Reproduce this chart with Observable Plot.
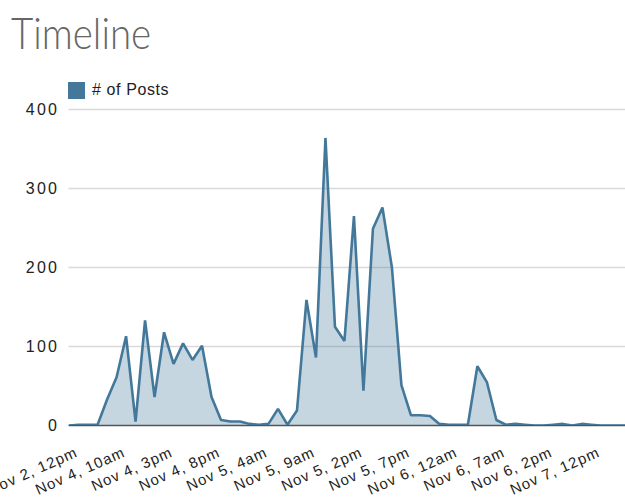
<!DOCTYPE html>
<html>
<head>
<meta charset="utf-8">
<script src="https://cdn.jsdelivr.net/npm/d3@7"></script>
<script src="https://cdn.jsdelivr.net/npm/@observablehq/plot@0.6"></script>
<style>
  html, body { margin: 0; padding: 0; background: #fff; }
  body { width: 625px; height: 497px; overflow: hidden; font-family: Arial, "Liberation Sans", sans-serif; }
  #header { position: relative; height: 90px; }
  #title { position: absolute; left: 11px; top: 2px; font-family: Lato, sans-serif; font-weight: 300;
           font-size: 44px; line-height: 60px; color: #666; white-space: nowrap;
           transform: scaleX(0.875); transform-origin: left top; }
  #header .sw { position: absolute; left: 68px; top: 82px; width: 17px; height: 17px; background: #43789a; }
  #header .lb { position: absolute; left: 92px; top: 80px; font-size: 16px; line-height: 20px; color: #222; letter-spacing: 0.6px; }
  #chart svg { display: block; }
  #chart g[aria-label="y-axis tick label"] text { letter-spacing: 2.2px; }
</style>
</head>
<body>
<div id="header">
  <div id="title">Timeline</div>
  <div class="sw"></div><div class="lb"># of Posts</div>
</div>
<div id="chart"></div>
<script>
// Number of posts per time bucket (category index 0..59)
const postCounts = [0, 1, 1, 1, 33, 61, 113, 5, 133, 36,
                    118, 78, 104, 83, 101, 36, 7, 5, 5, 2,
                    1, 2, 21, 1, 19, 159, 86, 364, 125, 107,
                    265, 44, 249, 276, 200, 51, 13, 13, 12, 2,
                    1, 1, 1, 75, 55, 7, 1, 2, 1, 0,
                    0, 1, 2, 0, 2, 1, 0, 0, 0, 0];
// Category positions that carry a label, and the labels
const tickIndex = [1, 6, 11, 16, 21, 26, 31, 36, 41, 46, 51, 56];
const tickLabels = ["Nov 2, 12pm", "Nov 4, 10am", "Nov 4, 3pm", "Nov 4, 8pm", "Nov 5, 4am", "Nov 5, 9am",
                    "Nov 5, 2pm", "Nov 5, 7pm", "Nov 6, 12am", "Nov 6, 7am", "Nov 6, 2pm", "Nov 7, 12pm"];
const yTicks = [0, 100, 200, 300, 400];
const gridTicks = [100, 200, 300, 400];

const data = postCounts.map((v, i) => ({i, v}));
const color = "#43789a";

const chart = Plot.plot({
  width: 625,
  height: 407,
  marginTop: 19,
  marginBottom: 72,
  marginLeft: 68.6,
  marginRight: 0,
  style: {fontFamily: "Arial, 'Liberation Sans', sans-serif", background: "#fff", overflow: "hidden", letterSpacing: "1px"},
  x: {type: "linear", domain: [0, 58.6], axis: null},
  y: {domain: [0, 400], axis: null},
  marks: [
    Plot.gridY(gridTicks, {stroke: "#d9d9d9", strokeOpacity: 1, strokeWidth: 1.5}),
    Plot.areaY(data, {x: "i", y: "v", fill: color, fillOpacity: 0.3, clip: true}),
    Plot.ruleY([0], {stroke: "#555", strokeWidth: 1.5}),
    Plot.lineY(data, {x: "i", y: "v", stroke: color, strokeWidth: 2.6, strokeLinejoin: "miter", clip: true}),
    Plot.axisY(yTicks, {tickSize: 0, tickPadding: 10, fontSize: 16, fill: "#222", label: null}),
    Plot.axisX(tickIndex, {tickSize: 0, tickPadding: 26, dx: -2, tickRotate: -24, fontSize: 15, fill: "#222", label: null,
      tickFormat: d => tickLabels[tickIndex.indexOf(d)]})
  ]
});
document.getElementById("chart").appendChild(chart);
</script>
</body>
</html>
